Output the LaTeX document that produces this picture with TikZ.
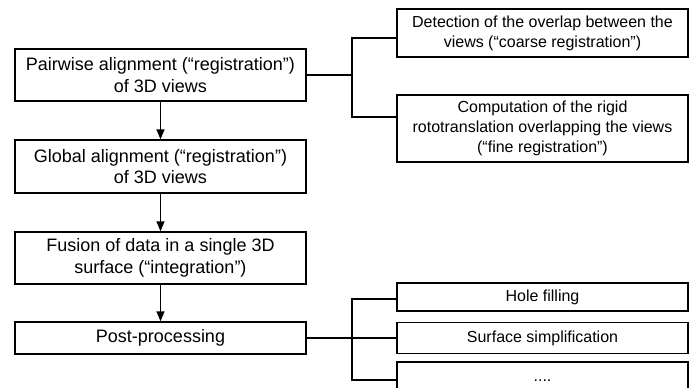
\documentclass[tikz,border=0pt]{standalone}
\usepackage{fontspec}
\setmainfont{Liberation Sans}
\usetikzlibrary{arrows.meta}
\begin{document}
\begin{tikzpicture}[x=1pt,y=-1pt,
  leftbox/.style={draw,line width=1.4pt,inner sep=0pt,minimum width=291pt,align=center,
    font=\fontsize{18}{21.5}\selectfont},
  rightbox/.style={draw,line width=1.4pt,inner sep=0pt,minimum width=291pt,align=center,
    font=\fontsize{16}{20}\selectfont},
  conn/.style={line width=1.4pt},
  flow/.style={line width=1.4pt,-{Triangle[length=10pt,width=8pt]}}]
\useasboundingbox (0,0) rectangle (694,388);
\begin{scope}
\clip (0,0) rectangle (694,388);
\node[leftbox,minimum height=52pt] (B1) at (160.5,75) {Pairwise alignment (“registration”)\\of 3D views};
\node[leftbox,minimum height=53pt] (B2) at (160.5,166.5) {Global alignment (“registration”)\\of 3D views};
\node[leftbox,minimum height=52pt] (B3) at (160.5,258) {Fusion of data in a single 3D\\surface (“integration”)};
\node[leftbox,minimum height=32pt] (B4) at (160.5,338) {Post-processing};
\node[rightbox,minimum height=48pt] (R1) at (542.5,33) {Detection of the overlap between the\\views (“coarse registration”)};
\node[rightbox,minimum height=67pt] (R2) at (542.5,128.5) {Computation of the rigid\\rototranslation overlapping the views\\(“fine registration”)};
\node[rightbox,minimum height=28pt] (R3) at (542.5,297) {Hole filling};
\node[rightbox,minimum height=31pt] (R4) at (542.5,338) {Surface simplification};
\node[rightbox,minimum height=38pt] (R5) at (542.5,381) {....};
\draw[flow] (B1) -- (B2);
\draw[flow] (B2) -- (B3);
\draw[flow] (B3) -- (B4);
\coordinate (j1t) at (352,38);
\coordinate (j1b) at (352,117);
\draw[conn] (B1.east) -- (B1.east -| j1t);
\draw[conn] (R1.west |- j1t) -- (j1t) -- (j1b) -- (R2.west |- j1b);
\coordinate (j2t) at (352,299);
\coordinate (j2b) at (352,380);
\draw[conn] (B4.east) -- (B4.east -| R4.west);
\draw[conn] (R3.west |- j2t) -- (j2t) -- (j2b) -- (R5.west |- j2b);
\end{scope}
\end{tikzpicture}
\end{document}
